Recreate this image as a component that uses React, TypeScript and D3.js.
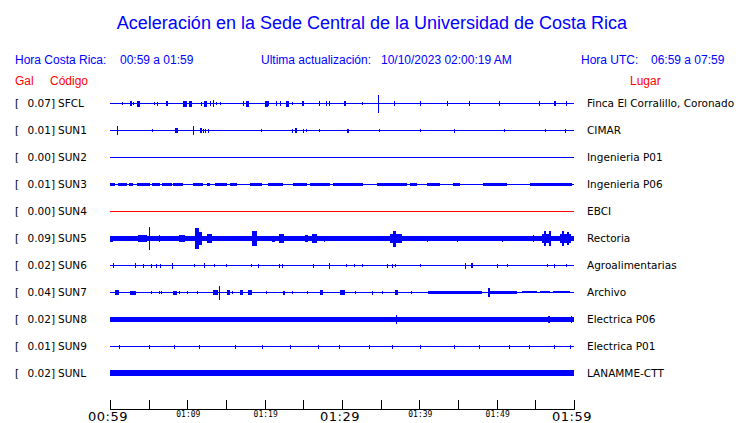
import React from "react";
import * as d3 from "d3";

// station list, peak acceleration (Gal) and place names
const codes = ["SFCL", "SUN1", "SUN2", "SUN3", "SUN4", "SUN5", "SUN6", "SUN7", "SUN8", "SUN9", "SUNL"];
const peaks = [0.07, 0.01, 0.0, 0.01, 0.0, 0.09, 0.02, 0.04, 0.02, 0.01, 0.02];
const places = [
  "Finca El Corralillo, Coronado",
  "CIMAR",
  "Ingenieria P01",
  "Ingenieria P06",
  "EBCI",
  "Rectoria",
  "Agroalimentarias",
  "Archivo",
  "Electrica P06",
  "Electrica P01",
  "LANAMME-CTT",
];

// continuous background noise level per station (counts)
const noiseLevel = [0, 0, 0, 0, 0, 2, 0, 0, 2, 0, 2.5];

// busy stretches: [start minute, end minute, amplitude]
const busy: Record<string, [number, number, number][]> = {
  SUN3: [
    [0, 0.65, 1.5], [1.03, 2.2, 1.5], [2.46, 2.97, 1.5], [3.49, 5.17, 1.5], [5.43, 6.47, 1.5],
    [6.72, 8.02, 1.5], [8.15, 9.44, 1.5], [10.73, 12.03, 1.5], [12.54, 12.93, 1.5], [13.58, 15.13, 1.5],
    [15.52, 16.42, 1.5], [18.1, 19.66, 1.5], [20.43, 22.37, 1.5], [23.66, 25.47, 1.5], [25.86, 28.45, 1.5],
    [28.84, 32.72, 1.5], [34.53, 38.4, 1.5], [38.79, 39.7, 1.5], [40.99, 42.67, 1.5], [44.35, 45.26, 1.5],
    [48.23, 51.34, 1.5], [54.31, 59.74, 1.5],
  ],
  SUN7: [
    [41.1, 48.1, 1.5], [49.1, 52.6, 1.5], [53.3, 55.2, 1], [55.6, 56.9, 1], [57.3, 59.5, 1],
  ],
};

// individual bursts: [minute, amplitude, duration in minutes]
const bursts: Record<string, [number, number, number][]> = {
  SFCL: [
    [1.68, 1, 0.1], [2.72, 2, 0.26], [3.1, 1, 0.1], [3.75, 2.5, 0.39], [5.69, 1, 0.1], [6.08, 1.5, 0.1],
    [7.37, 2, 0.26], [9.7, 2.5, 0.52], [10.47, 2.5, 0.39], [11.77, 1.5, 0.1], [12.41, 2.5, 0.39],
    [13.06, 2, 0.1], [13.32, 3, 0.1], [13.71, 1, 0.1], [14.35, 1, 0.1], [17.2, 2, 0.1], [17.84, 2.5, 0.39],
    [20.3, 2.5, 0.39], [20.56, 2, 0.1], [21.59, 2, 0.1], [22.11, 2, 0.1], [22.89, 2.5, 0.39], [23.66, 1, 0.1],
    [24.96, 2, 0.26], [27.03, 2, 0.1], [28.06, 2, 0.1], [28.32, 2, 0.1], [30.39, 2, 0.26], [32.59, 1, 0.1],
    [34.78, 8.5, 0.1], [36.85, 2, 0.1], [40.09, 2, 0.1], [43.58, 2, 0.1], [46.55, 2, 0.1], [50.43, 2, 0.1],
    [55.6, 2, 0.1], [57.54, 2, 0.26], [58.97, 2, 0.1],
  ],
  SUN1: [
    [0.91, 4, 0.1], [5.56, 1, 0.1], [8.66, 2, 0.39], [10.86, 4, 0.1], [11.77, 2, 0.26], [12.03, 1.5, 0.1],
    [12.41, 1.5, 0.1], [12.8, 1.5, 0.1], [19.53, 1, 0.1], [23.66, 1.5, 0.1], [24.05, 2, 0.26], [24.96, 1.5, 0.1],
    [25.47, 1, 0.1], [27.03, 1, 0.1], [30.65, 1.5, 0.1], [30.9, 1.5, 0.1], [34.91, 1, 0.1], [40.09, 1, 0.1],
    [44.61, 1.5, 0.1], [51.07, 1, 0.1], [56.25, 1, 0.1], [58.84, 1.5, 0.1],
  ],
  SUN5: [
    [0.2, 2.5, 0.4], [4.2, 3, 1.2], [5.17, 11, 0.15], [6.34, 3, 0.1], [9.3, 3, 0.8], [11.25, 10, 0.5],
    [11.6, 6, 0.5], [12.9, 4, 0.6], [18.75, 7, 0.7], [21.1, 2.5, 0.4], [22.1, 4, 0.6], [25.4, 3, 0.4],
    [26.4, 4, 0.6], [27.8, 2.5, 0.1], [32.7, 2, 0.1], [34.0, 2, 0.1], [37.0, 4, 1.5], [36.85, 7.5, 0.4],
    [41.0, 2.5, 0.1], [44.9, 2.5, 0.1], [47.5, 2, 0.1], [50.8, 2.5, 0.1], [54.7, 3, 0.1], [56.5, 4, 1.2],
    [56.2, 7, 0.2], [56.9, 7, 0.2], [58.9, 4, 1.4], [58.6, 7, 0.2], [59.2, 6, 0.2],
  ],
  SUN6: [
    [0.39, 2, 0.1], [3.36, 2, 0.1], [4.27, 1.5, 0.1], [5.43, 1.5, 0.1], [5.95, 1.5, 0.1], [6.47, 1.5, 0.1],
    [8.02, 2.5, 0.1], [10.99, 1, 0.1], [12.28, 2, 0.1], [13.45, 1, 0.1], [15.0, 1, 0.1], [18.36, 1, 0.1],
    [19.14, 1.5, 0.1], [21.98, 1.5, 0.1], [22.37, 1.5, 0.1], [26.25, 1.5, 0.1], [28.32, 2.5, 0.1],
    [30.52, 1, 0.1], [31.68, 1, 0.1], [32.59, 1, 0.1], [35.82, 1.5, 0.1], [36.47, 1.5, 0.1], [36.98, 1, 0.1],
    [40.09, 1, 0.1], [45.91, 2.5, 0.1], [46.81, 2, 0.3], [50.17, 1.5, 0.1], [51.34, 1, 0.1], [56.51, 1, 0.1],
    [57.54, 1.5, 0.1], [59.09, 1, 0.1],
  ],
  SUN7: [
    [0.9, 2, 0.5], [3.0, 1.5, 0.8], [5.43, 1, 0.1], [6.34, 1, 0.1], [6.72, 1, 0.1], [8.4, 1.5, 0.5],
    [9.05, 1, 0.1], [9.96, 1, 0.1], [11.25, 1, 0.1], [13.6, 2, 0.6], [14.22, 6.5, 0.1], [15.3, 2, 0.4],
    [15.9, 1, 0.1], [17.0, 2, 0.4], [18.1, 2, 0.5], [20.3, 1, 0.1], [22.5, 1.5, 0.3], [23.66, 1, 0.1],
    [25.6, 1, 0.1], [27.3, 2, 0.4], [30.1, 2, 0.6], [31.7, 1, 0.1], [33.9, 1.5, 0.1], [35.3, 1, 0.1],
    [37.0, 2, 0.4], [39.05, 1, 0.1], [49.0, 4, 0.3],
  ],
  SUN8: [[37.1, 4, 0.1], [56.8, 3, 0.2], [59.7, 3, 0.1]],
  SUN9: [
    [1.29, 1.5, 0.1], [5.17, 1.5, 0.1], [8.4, 1.5, 0.1], [11.6, 1.5, 0.1], [16.2, 1.5, 0.1], [19.7, 1.5, 0.1],
    [23.3, 1.5, 0.1], [26.9, 1.5, 0.1], [29.7, 1.5, 0.1], [33.6, 1.5, 0.1], [36.5, 1.5, 0.1], [40.1, 1.5, 0.1],
    [44.6, 1.5, 0.1], [47.8, 1.5, 0.1], [51.7, 1.5, 0.1], [54.3, 1.5, 0.1], [57.5, 1.5, 0.1], [59.5, 1.5, 0.1],
  ],
};

// time axis: minutes after 00:59
const tickMinutes = d3.range(0, 61, 5);
const tickLabels: Record<number, string> = {
  0: "00:59", 10: "01:09", 20: "01:19", 30: "01:29", 40: "01:39", 50: "01:49", 60: "01:59",
};
const bigLabels = [0, 30, 60];

const BLUE = "#0000ff";
const RED = "#ff0000";

const App: React.FC = () => {
  const width = 740;
  const height = 423;
  const x = d3.scaleLinear().domain([0, 60]).range([110, 574]);
  const row = d3.scaleBand<string>().domain(codes).range([89.5, 386.5]);
  const rowY = (c: string) => Math.round(row(c)! + row.bandwidth() / 2);
  const axisY = 409;
  const labelFont = "DejaVu Sans, sans-serif";
  const headFont = "Liberation Sans, Arial, sans-serif";

  return (
    <svg width={width} height={height} style={{ position: "absolute", left: 0, top: 0 }}>
      <rect width={width} height={height} fill="#fff" />
      <text x={372} y={29} textAnchor="middle" fontFamily={headFont} fontSize={18} fill={BLUE}>
        Aceleración en la Sede Central de la Universidad de Costa Rica
      </text>

      <g fontFamily={headFont} fontSize={12} fill={BLUE}>
        <text x={15} y={64}>Hora Costa Rica:</text>
        <text x={120} y={64}>00:59 a 01:59</text>
        <text x={261} y={64}>Ultima actualización:</text>
        <text x={381} y={64}>10/10/2023 02:00:19 AM</text>
        <text x={581} y={64}>Hora UTC:</text>
        <text x={651} y={64}>06:59 a 07:59</text>
      </g>
      <g fontFamily={headFont} fontSize={12} fill={RED}>
        <text x={15} y={85}>Gal</text>
        <text x={50} y={85}>Código</text>
        <text x={630} y={85}>Lugar</text>
      </g>

      {codes.map((c, i) => {
        const y = rowY(c);
        const color = c === "SUN4" ? RED : BLUE;
        const n = noiseLevel[i];
        return (
          <g key={c}>
            <g fontFamily={labelFont} fontSize={10.5} fill="#000">
              <text x={15} y={y + 4}>[</text>
              <text x={55} y={y + 4} textAnchor="end">{peaks[i].toFixed(2)}]</text>
              <text x={58} y={y + 4}>{c}</text>
              <text x={587} y={y + 4}>{places[i]}</text>
            </g>
            <g fill={color} shapeRendering="crispEdges">
              <rect x={x(0)} y={y - 0.5 - n} width={x(60) - x(0)} height={1 + 2 * n} />
              {(busy[c] || []).map(([a, b, amp], j) => (
                <rect key={"b" + j} x={x(a)} y={y - amp} width={x(b) - x(a)} height={2 * amp} />
              ))}
              {(bursts[c] || []).map(([t, amp, dur], j) => {
                const w = Math.max(1, x(dur) - x(0));
                return (
                  <rect key={"s" + j} x={Math.round(x(t) - w / 2)} y={Math.round(y - amp)}
                    width={Math.round(w)} height={Math.round(2 * amp) + 1} />
                );
              })}
            </g>
          </g>
        );
      })}

      <g shapeRendering="crispEdges" stroke="#000">
        <line x1={x(0)} x2={x(60) + 1} y1={axisY + 0.5} y2={axisY + 0.5} />
        {tickMinutes.map((m) => (
          <line key={m} x1={Math.round(x(m)) + 0.5} x2={Math.round(x(m)) + 0.5} y1={400} y2={axisY} />
        ))}
      </g>
      <g fill="#000" textAnchor="middle">
        {Object.keys(tickLabels).map((k) => {
          const m = +k;
          const big = bigLabels.includes(m);
          return (
            <text key={k} x={x(m) + (big ? -2 : 1)} y={big ? 421 : 417}
              fontFamily={big ? "DejaVu Sans, sans-serif" : "DejaVu Sans Mono, monospace"}
              fontSize={big ? 13 : 8} letterSpacing={big ? 0.5 : 0}>
              {tickLabels[m]}
            </text>
          );
        })}
      </g>
    </svg>
  );
};

export default App;
